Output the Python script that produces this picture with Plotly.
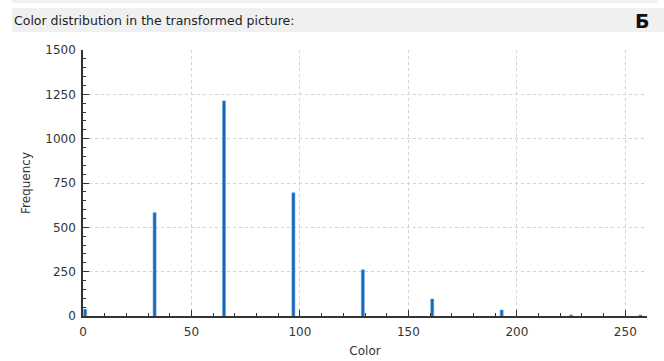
import plotly.graph_objects as go

# Histogram of colour values after the transformation
colors = [1, 33, 65, 97, 129, 161, 193, 225, 257]
frequency = [38, 583, 1213, 695, 261, 96, 34, 6, 5]

W, H = 664, 361
ML, MR, MT, MB = 83, 17, 50, 45
PW, PH = W - ML - MR, H - MT - MB


def px(x):
    return (x - ML) / PW


def py(y):
    return (H - MB - y) / PH


fig = go.Figure()
fig.add_trace(go.Bar(
    x=colors,
    y=frequency,
    width=1.4,
    marker=dict(color="#1a64b8", line=dict(color="#5aa6e4", width=0.6)),
    hoverinfo="x+y",
))

axis_common = dict(
    automargin=False,
    showline=True,
    linecolor="#333333",
    linewidth=1.5,
    ticks="inside",
    ticklen=6,
    tickwidth=1.2,
    tickcolor="#333333",
    showgrid=True,
    gridcolor="#d2d2d2",
    griddash="dot",
    gridwidth=1,
    zeroline=False,
    tickfont=dict(family="DejaVu Sans", size=12, color="#333333"),
)

fig.update_layout(
    width=W,
    height=H,
    margin=dict(l=ML, r=MR, t=MT, b=MB),
    paper_bgcolor="white",
    plot_bgcolor="white",
    showlegend=False,
    xaxis=dict(
        range=[0, 260],
        dtick=50,
        tick0=0,
        ticklabelstandoff=4,
        minor=dict(ticks="inside", dtick=10, ticklen=3, tickcolor="#333333", showgrid=False),
        title=dict(text="Color", font=dict(family="DejaVu Sans", size=12, color="#333333"), standoff=8),
        **axis_common,
    ),
    yaxis=dict(
        range=[0, 1500],
        dtick=250,
        tick0=0,
        ticklabelstandoff=3,
        minor=dict(ticks="inside", dtick=50, ticklen=3, tickcolor="#333333", showgrid=False),
        title=dict(text="Frequency", font=dict(family="DejaVu Sans", size=12, color="#333333"), standoff=12),
        **axis_common,
    ),
    shapes=[
        # thin grey strip along the top edge
        dict(type="rect", xref="paper", yref="paper",
             x0=px(12), x1=px(657), y0=py(0), y1=py(3),
             fillcolor="#f0f0f0", line=dict(width=0), layer="below"),
        # header band behind the caption
        dict(type="rect", xref="paper", yref="paper",
             x0=px(12), x1=px(664), y0=py(8), y1=py(32),
             fillcolor="#f0f0f0", line=dict(width=0), layer="below"),
    ],
    annotations=[
        dict(text="Color distribution in the transformed picture:",
             xref="paper", yref="paper", x=px(12), y=py(20),
             xanchor="left", yanchor="middle", showarrow=False,
             font=dict(family="DejaVu Sans", size=12.5, color="#1e1e1e")),
        dict(text="<b>Б</b>",
             xref="paper", yref="paper", x=px(642), y=py(21),
             xanchor="center", yanchor="middle", showarrow=False,
             font=dict(family="DejaVu Sans", size=19, color="#111111")),
    ],
)

fig.write_html("out.html")
